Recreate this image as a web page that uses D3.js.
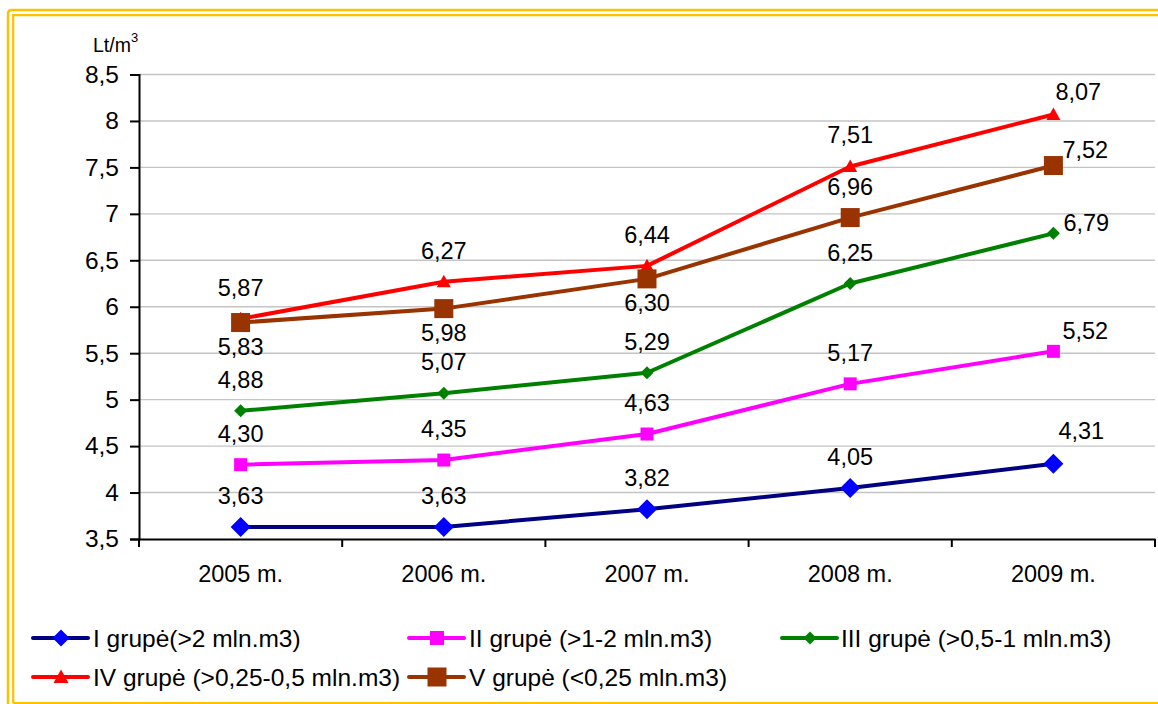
<!DOCTYPE html>
<html>
<head>
<meta charset="utf-8">
<script src="https://cdn.jsdelivr.net/npm/d3@7"></script>
<style>
  html, body { margin: 0; padding: 0; background: #fff; }
  svg { display: block; font-family: "Liberation Sans", Arial, sans-serif; }
</style>
</head>
<body>
<svg id="chart" width="1158" height="704"></svg>
<script>
const years = ["2005 m.", "2006 m.", "2007 m.", "2008 m.", "2009 m."];
const yTicks = [3.5, 4, 4.5, 5, 5.5, 6, 6.5, 7, 7.5, 8, 8.5];

const seriesI   = [3.63, 3.63, 3.82, 4.05, 4.31];
const seriesII  = [4.30, 4.35, 4.63, 5.17, 5.52];
const seriesIII = [4.88, 5.07, 5.29, 6.25, 6.79];
const seriesIV  = [5.87, 6.27, 6.44, 7.51, 8.07];
const seriesV   = [5.83, 5.98, 6.30, 6.96, 7.52];

const seriesNames = [
  "I grupė(>2 mln.m3)",
  "II grupė (>1-2 mln.m3)",
  "III grupė (>0,5-1 mln.m3)",
  "IV grupė (>0,25-0,5 mln.m3)",
  "V grupė (<0,25 mln.m3)"
];

// label placement: "above", "below", or "right"
const labelPosI   = ["above", "above", "above", "above", "right"];
const labelPosII  = ["above", "above", "above", "above", "right"];
const labelPosIII = ["above", "above", "above", "above", "right"];
const labelPosIV  = ["above", "above", "above", "above", "right"];
const labelPosV   = ["below", "below", "below", "above", "right"];

(function () {
// styling / label nudges for the last ("right") labels
const rightNudge = [[5, -25], [9, -12], [10, -2], [2, -14], [9, -8]];

const series = [
  { name: seriesNames[0], values: seriesI,   pos: labelPosI,   line: "#000080", fill: "#0000FF", shape: "diamond",  size: 10 },
  { name: seriesNames[1], values: seriesII,  pos: labelPosII,  line: "#FF00FF", fill: "#FF00FF", shape: "square",   size: 6.5 },
  { name: seriesNames[2], values: seriesIII, pos: labelPosIII, line: "#008000", fill: "#008000", shape: "diamond",  size: 6.5 },
  { name: seriesNames[3], values: seriesIV,  pos: labelPosIV,  line: "#FF0000", fill: "#FF0000", shape: "triangle", size: 7 },
  { name: seriesNames[4], values: seriesV,   pos: labelPosV,   line: "#993300", fill: "#993300", shape: "square",   size: 9.5 }
];

const svg = d3.select("#chart");

// yellow double border
const gold = "#FFC000";
svg.append("path")
  .attr("d", "M8,720 L8,14 Q8,10 12,10 L1170,10")
  .attr("fill", "none").attr("stroke", gold).attr("stroke-width", 2.5);
svg.append("path")
  .attr("d", "M13.2,703 L13.2,15.2 L1170,15.2 M13.2,703 L1170,703")
  .attr("fill", "none").attr("stroke", gold).attr("stroke-width", 2.2);

const pLeft = 139, pRight = 1155, pTop = 74.5, pBottom = 539;

const x = d3.scaleBand().domain(years).range([pLeft, pRight]).padding(0);
const y = d3.scaleLinear().domain([3.5, 8.5]).range([pBottom, pTop]);
const cx = d => x(d) + x.bandwidth() / 2;

// gridlines
svg.append("g")
  .selectAll("line")
  .data(yTicks.filter(t => t > 3.5))
  .join("line")
  .attr("x1", pLeft).attr("x2", pRight)
  .attr("y1", d => y(d)).attr("y2", d => y(d))
  .attr("stroke", "#c4c4c4").attr("stroke-width", 1.4);

// y axis
const fmt = d => String(d).replace(".", ",");
const yAxis = svg.append("g")
  .attr("transform", `translate(${pLeft},0)`)
  .call(d3.axisLeft(y).tickValues(yTicks).tickFormat(fmt).tickSize(9).tickPadding(11));
yAxis.select(".domain").attr("stroke", "#000").attr("stroke-width", 2);
yAxis.selectAll(".tick line").attr("stroke", "#000").attr("stroke-width", 2);
yAxis.selectAll(".tick text")
  .attr("font-size", 24.5).attr("fill", "#000")
  .attr("font-family", "Liberation Sans, Arial, sans-serif");

// x axis
const xAxis = svg.append("g")
  .attr("transform", `translate(0,${pBottom})`)
  .call(d3.axisBottom(x).tickSize(0).tickPadding(26));
xAxis.select(".domain").attr("stroke", "#000").attr("stroke-width", 2);
xAxis.selectAll(".tick text")
  .attr("font-size", 23.5).attr("fill", "#000")
  .attr("font-family", "Liberation Sans, Arial, sans-serif");
// x ticks at category boundaries
const bounds = years.map(d => x(d)).concat([pRight]);
xAxis.selectAll(".bound")
  .data(bounds)
  .join("line")
  .attr("class", "bound")
  .attr("x1", d => d).attr("x2", d => d)
  .attr("y1", 0).attr("y2", 8)
  .attr("stroke", "#000").attr("stroke-width", 2);

// unit label
const unit = svg.append("text")
  .attr("x", 93).attr("y", 52)
  .attr("font-size", 19.5).attr("fill", "#000");
unit.append("tspan").text("Lt/m");
unit.append("tspan").attr("dy", -10).attr("font-size", 13).text("3");

// marker path generator
function markerPath(shape, s) {
  if (shape === "diamond") return `M0,${-s} L${s},0 L0,${s} L${-s},0 Z`;
  if (shape === "square") return `M${-s},${-s} L${s},${-s} L${s},${s} L${-s},${s} Z`;
  if (shape === "triangle") return `M0,${-s} L${s},${s * 0.8} L${-s},${s * 0.8} Z`;
  return "";
}

const lineGen = d3.line().x((d, i) => cx(years[i])).y(d => y(d));

const plot = svg.append("g");
series.forEach(s => {
  const g = plot.append("g");
  g.append("path")
    .attr("d", lineGen(s.values))
    .attr("fill", "none").attr("stroke", s.line).attr("stroke-width", 4)
    .attr("stroke-linejoin", "round");
  g.selectAll("path.mk")
    .data(s.values)
    .join("path")
    .attr("class", "mk")
    .attr("transform", (d, i) => `translate(${cx(years[i])},${y(d)})`)
    .attr("d", markerPath(s.shape, s.size))
    .attr("fill", s.fill);
});

// data labels
const labels = svg.append("g");
series.forEach((s, si) => {
  s.values.forEach((v, i) => {
    const px = cx(years[i]), py = y(v);
    let lx = px, ly = py, anchor = "middle";
    const p = s.pos[i];
    if (p === "above") { ly = py - 23; }
    else if (p === "below") { ly = py + 32; }
    else if (p === "right") { lx = px + rightNudge[si][0]; ly = py + rightNudge[si][1]; anchor = "start"; }
    labels.append("text")
      .attr("x", lx).attr("y", ly)
      .attr("text-anchor", anchor)
      .attr("font-size", 23.5).attr("fill", "#000")
      .text(v.toFixed(2).replace(".", ","));
  });
});

// legend
const legendPos = [
  { lx: 33, tx: 93, y: 638 },
  { lx: 409, tx: 469, y: 638 },
  { lx: 782, tx: 841, y: 638 },
  { lx: 33, tx: 93, y: 677 },
  { lx: 409, tx: 469, y: 677 }
];
const legendMarker = [8.5, 7, 6.5, 7.5, 9.5];
const legend = svg.append("g");
series.forEach((s, i) => {
  const p = legendPos[i];
  legend.append("line")
    .attr("x1", p.lx).attr("x2", p.lx + 55)
    .attr("y1", p.y).attr("y2", p.y)
    .attr("stroke", s.line).attr("stroke-width", 4).attr("stroke-linecap", "round");
  legend.append("path")
    .attr("transform", `translate(${p.lx + 28},${p.y})`)
    .attr("d", markerPath(s.shape, legendMarker[i]))
    .attr("fill", s.fill);
  legend.append("text")
    .attr("x", p.tx).attr("y", p.y + 9)
    .attr("font-size", 24.5).attr("fill", "#000")
    .text(s.name);
});
})();
</script>
</body>
</html>
